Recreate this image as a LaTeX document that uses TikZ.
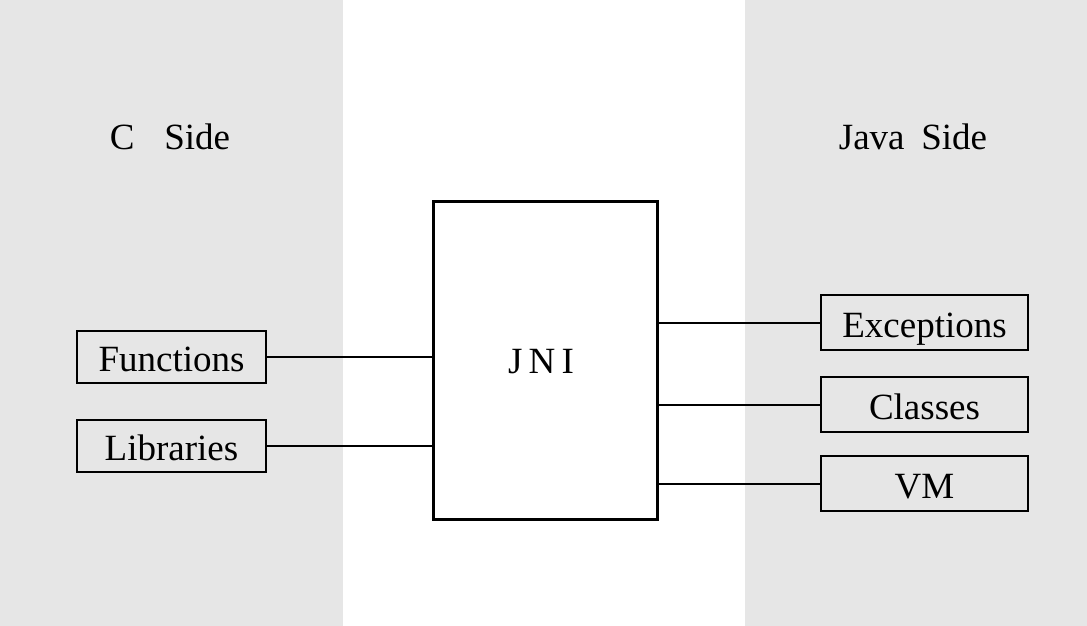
\documentclass[tikz,border=0pt]{standalone}
\usepackage{fontspec}
\setmainfont{Liberation Serif}
\usetikzlibrary{calc}
\definecolor{sidegray}{HTML}{E6E6E6}
\tikzset{part/.style={draw, line width=1pt, inner sep=0pt, minimum width=94.5pt, minimum height=26pt, text height=14.5pt, text depth=0pt},
  jpart/.style={part, minimum width=103.5pt, minimum height=27.5pt},
  link/.style={line width=1pt}}

\begin{document}
\begin{tikzpicture}[x=0.5pt, y=-0.5pt, font=\fontsize{18.5}{22}\selectfont]
  \useasboundingbox (0,0) rectangle (1087,626);
  \fill [sidegray] (0,0) rectangle (343,626);
  \fill [sidegray] (745,0) rectangle (1087,626);
  \node (cside) at (170,137) {C\hspace{0.8em}Side};
  \node (jside) at (913,137) {Java\hspace{0.45em}Side};
  \node [draw, line width=1.5pt, minimum width=112pt, minimum height=159pt, inner sep=0pt] (jni) at (545,360) {};
  \node (jnitext) at (541,362) {J\,N\,I};
  \node [part] (functions) at (171.5,357) {Functions};
  \node [part] (libraries) at (171.5,446) {Libraries};
  \node [jpart] (exceptions) at (924.5,322.5) {Exceptions};
  \node [jpart] (classes) at (924.5,404.5) {Classes};
  \node [jpart] (vm) at (924.5,483.5) {VM};
  \draw [link] (functions.east) -- (functions.east -| jni.west);
  \draw [link] (libraries.east) -- (libraries.east -| jni.west);
  \draw [link] (exceptions.west -| jni.east) -- (exceptions.west);
  \draw [link] (classes.west -| jni.east) -- (classes.west);
  \draw [link] (vm.west -| jni.east) -- (vm.west);
\end{tikzpicture}
\end{document}
